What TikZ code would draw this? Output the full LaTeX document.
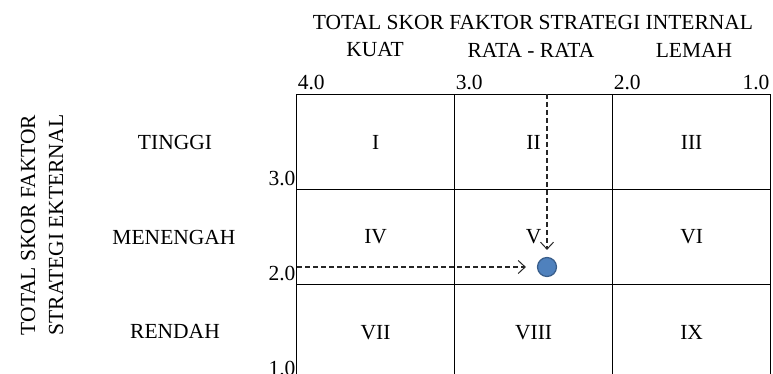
\documentclass[tikz,border=0pt]{standalone}
\usepackage{fontspec}
\setmainfont{Liberation Serif}
\usepackage{tikz}
\usetikzlibrary{matrix,arrows.meta}

\definecolor{dotfill}{HTML}{4F81BD}
\definecolor{dotdraw}{HTML}{385D8A}

\begin{document}
\begin{tikzpicture}[x=1pt,y=-1pt,
    font=\fontsize{21.5}{24}\selectfont,
    cell/.style={draw,line width=1.2pt,minimum width=158pt,minimum height=95pt,inner sep=0pt},
    tick/.style={inner sep=1pt},
    guide/.style={dash pattern=on 5pt off 3pt,line width=1.1pt,color=black!85,
      -{Straight Barb[length=7pt,width=13pt,line width=1pt]}}]
  \useasboundingbox (0,0) rectangle (773,374);
  \matrix (m) [matrix of nodes, nodes={cell}, inner sep=0pt, outer sep=0pt,
    row sep=-1.2pt, column sep=-1.2pt, anchor=north west] at (296,94)
  {
    I & II & III \\
    IV & V & VI \\
    VII & VIII & IX \\
  };
  % axis titles
  \node (intl) at (533,22) {TOTAL SKOR FAKTOR STRATEGI INTERNAL};
  \node (ekst) [rotate=90, align=center, font=\fontsize{21.5}{28}\selectfont] at (42,225) {TOTAL SKOR FAKTOR\\STRATEGI EKTERNAL};
  % column and row names
  \node (kuat) at (375,50) {KUAT};
  \node (rata) at (531,50) {RATA - RATA};
  \node (lemah) at (694,50) {LEMAH};
  \node (tinggi) at (175,142) {TINGGI};
  \node (menengah) at (174,237) {MENENGAH};
  \node (rendah) at (175,331) {RENDAH};
  % scale values
  \node (x4) [tick, anchor=south west, yshift=4pt] at (m-1-1.north west) {4.0};
  \node (x3) [tick, anchor=south west, yshift=4pt] at (m-1-2.north west) {3.0};
  \node (x2) [tick, anchor=south west, yshift=4pt] at (m-1-3.north west) {2.0};
  \node (x1) [tick, anchor=south east, yshift=4pt] at (m-1-3.north east) {1.0};
  \node (y3) [tick, anchor=south east, yshift=3pt] at (m-1-1.south west) {3.0};
  \node (y2) [tick, anchor=south east, yshift=3pt] at (m-2-1.south west) {2.0};
  \node (y1) [tick, anchor=south east, yshift=3pt] at (m-3-1.south west) {1.0};
  % position point
  \node (dot) [circle, fill=dotfill, draw=dotdraw, line width=1.2pt, minimum size=19pt, inner sep=0pt] at (547,267) {};
  \coordinate (topin) at (547,94);
  \coordinate (leftin) at (297,267);
  \path[guide]
  (topin) edge ([yshift=7pt]dot.north)
  (leftin) edge ([xshift=-11pt]dot.west)
  ;
\end{tikzpicture}
\end{document}
